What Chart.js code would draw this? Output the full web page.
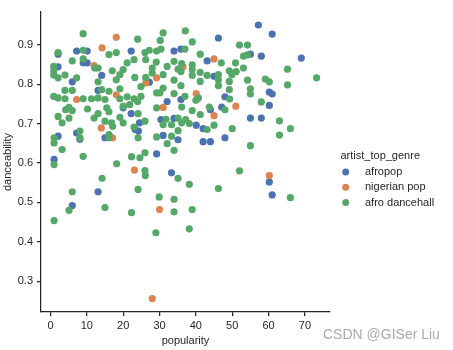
<!DOCTYPE html>
<html>
<head>
<meta charset="utf-8">
<script src="https://cdn.jsdelivr.net/npm/chart.js@4/dist/chart.umd.min.js"></script>
<style>
  body { margin: 0; background: #fff; }
</style>
</head>
<body>
<canvas id="myChart" width="453" height="350"></canvas>
<script>
const genres = ['afropop', 'nigerian pop', 'afro dancehall'];
const colors = ['#4c72b0', '#dd8452', '#55a868'];

const afropopPopularity = [7.2,10.1,2.1,22.2,9.0,10.1,2.1,14.1,6.0,13.1,20.0,22.2,24.5,7.2,8.1,2.1,15.0,23.3,24.2,1.0,13.1,6.0,46.2,34.0,35.9,43.1,45.0,27.2,32.1,35.9,48.0,47.1,44.0,30.4,34.0,40.1,42.0,31.0,35.1,48.0,42.0,44.0,29.2,33.3,57.2,61.0,55.0,58.0,69.0,60.2,61.0,60.2,55.0,58.0,60.2,61.0];
const afropopDanceability = [0.884,0.884,0.876,0.884,0.854,0.854,0.844,0.822,0.806,0.784,0.740,0.725,0.702,0.676,0.660,0.668,0.664,0.685,0.681,0.609,0.527,0.492,0.917,0.884,0.889,0.859,0.820,0.805,0.756,0.761,0.768,0.742,0.735,0.710,0.713,0.696,0.687,0.670,0.659,0.664,0.654,0.654,0.623,0.575,0.950,0.927,0.876,0.871,0.866,0.780,0.775,0.746,0.714,0.714,0.552,0.519];

const nigerianPopPopularity = [18.1,14.2,12.0,18.1,7.2,14.0,17.1,23.1,28.0,30.0,45.0,36.5,26.2,29.2,40.1,31.0,45.0,51.0,60.2];
const nigerianPopDanceability = [0.919,0.892,0.847,0.773,0.761,0.689,0.664,0.582,0.256,0.482,0.864,0.844,0.803,0.816,0.776,0.741,0.720,0.744,0.568];

const dancehallPopularity = [9.0,24.0,9.0,2.1,16.1,18.1,6.0,9.0,12.2,13.1,21.1,23.0,0.9,0.9,0.9,2.1,4.0,17.0,20.0,19.1,7.2,13.1,18.1,4.0,6.0,14.1,16.1,19.1,0.9,2.1,4.0,9.0,11.3,13.1,15.0,19.1,21.1,23.0,5.1,10.2,15.5,20.0,21.8,24.0,
  4.2,6.0,2.1,5.1,3.2,12.0,13.1,16.1,24.1,15.0,16.8,17.1,19.1,20.0,23.0,8.1,8.1,1.0,1.0,3.2,16.1,16.1,24.1,9.0,1.0,22.3,24.6,18.2,14.2,6.0,24.1,5.1,15.0,22.3,1.0,29.0,29.9,26.1,26.0,
  37.1,31.0,30.2,39.0,37.0,30.4,29.2,27.2,26.0,41.2,47.0,50.9,26.2,29.1,34.0,32.1,36.1,39.0,28.0,35.1,35.9,39.0,41.2,49.2,49.9,28.0,23.2,26.2,31.0,39.0,43.1,46.2,46.2,34.0,41.2,49.2,24.9,31.0,35.9,46.2,49.2,29.2,30.1,34.0,40.7,37.0,24.9,40.0,49.3,29.2,36.1,43.7,
  39.0,48.0,41.2,31.8,35.1,37.2,26.0,31.0,33.3,36.1,38.2,43.1,45.0,50.0,29.2,33.3,35.1,32.1,34.0,26.0,35.1,38.2,46.2,34.0,34.0,39.0,38.2,
  63.0,66.0,63.0,55.0,52.0,66.0,52.0,54.2,53.1,54.2,65.2,73.2,51.1,53.1,54.2,59.1,60.2,65.2,55.0,55.0,58.0];
const dancehallDanceability = [0.928,0.914,0.886,0.880,0.875,0.880,0.859,0.864,0.841,0.841,0.854,0.862,0.845,0.834,0.823,0.816,0.823,0.834,0.837,0.824,0.816,0.806,0.811,0.784,0.784,0.786,0.782,0.788,0.769,0.765,0.763,0.763,0.763,0.765,0.761,0.763,0.768,0.763,0.741,0.737,0.740,0.744,0.748,0.756,
  0.735,0.733,0.718,0.714,0.702,0.714,0.725,0.730,0.725,0.706,0.702,0.693,0.716,0.702,0.691,0.681,0.664,0.664,0.651,0.634,0.672,0.664,0.664,0.617,0.596,0.616,0.613,0.598,0.561,0.527,0.533,0.480,0.487,0.474,0.454,0.423,0.514,0.568,0.581,
  0.935,0.930,0.911,0.907,0.889,0.889,0.884,0.886,0.880,0.876,0.854,0.854,0.862,0.856,0.858,0.845,0.852,0.849,0.841,0.838,0.832,0.837,0.830,0.834,0.824,0.828,0.817,0.817,0.824,0.822,0.822,0.824,0.811,0.810,0.807,0.807,0.794,0.790,0.796,0.796,0.786,0.778,0.778,0.776,0.765,0.769,0.769,0.759,0.762,0.740,0.742,0.742,
  0.733,0.735,0.723,0.711,0.714,0.710,0.706,0.697,0.697,0.702,0.700,0.685,0.696,0.687,0.666,0.668,0.682,0.649,0.632,0.626,0.561,0.546,0.535,0.508,0.476,0.482,0.433,
  0.707,0.687,0.671,0.644,0.580,0.512,0.899,0.899,0.871,0.874,0.838,0.816,0.832,0.841,0.810,0.813,0.806,0.798,0.788,0.775,0.755];

const xTicks = [0, 10, 20, 30, 40, 50, 60, 70];
const yTicks = [0.3, 0.4, 0.5, 0.6, 0.7, 0.8, 0.9];

function toPoints(xs, ys) {
    return xs.map((x, i) => ({x: x, y: ys[i]}));
}

const seriesData = [
    toPoints(afropopPopularity, afropopDanceability),
    toPoints(nigerianPopPopularity, nigerianPopDanceability),
    toPoints(dancehallPopularity, dancehallDanceability)
];

const textColor = '#262626';
const font = {family: "'Liberation Sans', Arial, sans-serif", size: 11};

// legend and watermark drawn next to the plot, like seaborn's outside legend
const sideLegend = {
    id: 'sideLegend',
    afterDraw(chart) {
        const c = chart.ctx;
        c.save();
        c.font = "11px 'Liberation Sans', Arial, sans-serif";
        c.fillStyle = textColor;
        c.textBaseline = 'middle';
        c.textAlign = 'left';
        c.fillText('artist_top_genre', 340.5, 155.5);
        chart.data.datasets.forEach((ds, i) => {
            const y = 172 + i * 15.3;
            c.beginPath();
            c.arc(345.7, y, 3.5, 0, Math.PI * 2);
            c.fillStyle = ds.backgroundColor;
            c.fill();
            c.fillStyle = textColor;
            c.fillText(ds.label, 365, y);
        });
        c.font = "14px 'Liberation Sans', Arial, sans-serif";
        c.fillStyle = '#ababab';
        c.fillText('CSDN @GISer Liu', 323, 335);
        c.restore();
    }
};

let ctx = document.getElementById('myChart');
let myChart = new Chart(ctx, {
    type: 'scatter',
    data: {
        datasets: genres.map((g, i) => ({
            label: g,
            data: seriesData[i],
            backgroundColor: colors[i],
            borderWidth: 0,
            pointRadius: 3.6,
            order: 2 - i
        }))
    },
    options: {
        responsive: false,
        animation: false,
        devicePixelRatio: 1,
        layout: {
            padding: {left: 0, right: 123, top: 12, bottom: 0}
        },
        plugins: {
            legend: {display: false},
            tooltip: {enabled: false}
        },
        scales: {
            x: {
                type: 'linear',
                min: -2.6,
                max: 76.9,
                afterBuildTicks: s => { s.ticks = xTicks.map(v => ({value: v})); },
                afterFit: s => { s.height = 38; },
                border: {display: true, color: textColor, width: 1.25},
                grid: {drawOnChartArea: false, drawTicks: true, tickLength: 4, color: textColor, lineWidth: 1.25},
                ticks: {color: textColor, font: font, padding: 3, maxRotation: 0},
                title: {display: true, text: 'popularity', color: textColor, font: font, padding: {top: 0, bottom: 2}}
            },
            y: {
                type: 'linear',
                min: 0.222,
                max: 0.983,
                afterBuildTicks: s => { s.ticks = yTicks.map(v => ({value: v})); },
                afterFit: s => { s.width = 41; },
                border: {display: true, color: textColor, width: 1.25},
                grid: {drawOnChartArea: false, drawTicks: true, tickLength: 4, color: textColor, lineWidth: 1.25},
                ticks: {color: textColor, font: font, padding: 4, callback: v => v.toFixed(1)},
                title: {display: true, text: 'danceability', color: textColor, font: font, padding: {top: 1, bottom: 0}}
            }
        }
    },
    plugins: [sideLegend]
});
</script>
</body>
</html>
